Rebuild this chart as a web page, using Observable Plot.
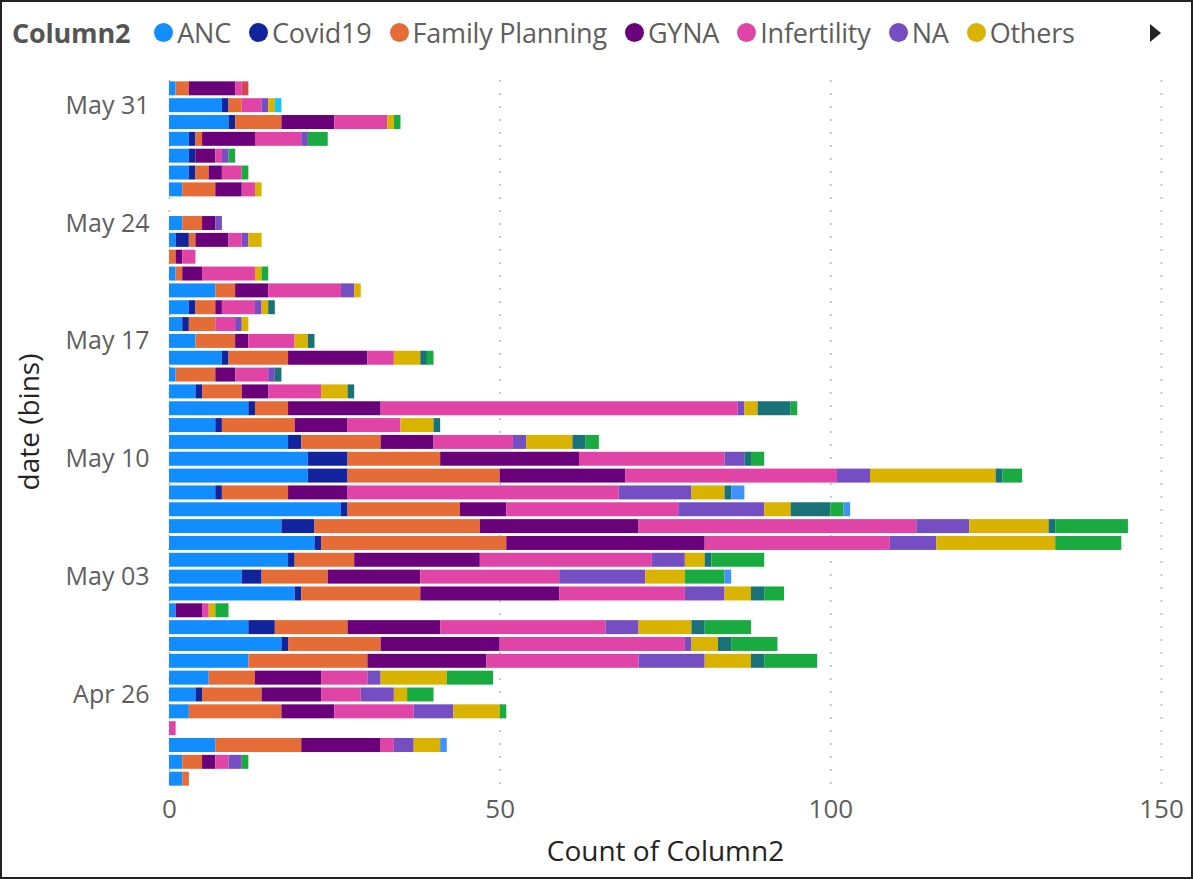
<!DOCTYPE html>
<html><head><meta charset="utf-8">
<script src="https://cdn.jsdelivr.net/npm/d3@7"></script>
<script src="https://cdn.jsdelivr.net/npm/@observablehq/plot@0.6"></script>
<style>
html,body{margin:0;padding:0;background:#fff;}
#frame{position:relative;width:1193px;height:879px;box-sizing:border-box;border:2px solid #222;overflow:hidden;font-family:"Open Sans",sans-serif;background:#fff;}
#legend{height:60px;display:flex;align-items:center;padding-left:10px;font-size:27px;color:#605E5C;white-space:nowrap;letter-spacing:-0.2px;}
.lt{font-weight:700;color:#555;margin-right:24px;}
.li{display:flex;align-items:center;margin-right:18px;}
.dot{width:19px;height:19px;border-radius:50%;margin-right:4px;}
#arrow{position:absolute;left:1148px;top:22px;width:0;height:0;border-left:11px solid #252423;border-top:9px solid transparent;border-bottom:9px solid transparent;}
svg{display:block;}
</style></head>
<body><div id="frame"><div id="legend"></div><div id="arrow"></div><div id="chart"></div></div>
<script>
// Dates (daily bins), Apr 21 → Jun 1
const dates = ["2020-04-21","2020-04-22","2020-04-23","2020-04-24","2020-04-25","2020-04-26","2020-04-27","2020-04-28","2020-04-29","2020-04-30",
  "2020-05-01","2020-05-02","2020-05-03","2020-05-04","2020-05-05","2020-05-06","2020-05-07","2020-05-08","2020-05-09","2020-05-10",
  "2020-05-11","2020-05-12","2020-05-13","2020-05-14","2020-05-15","2020-05-16","2020-05-17","2020-05-18","2020-05-19","2020-05-20",
  "2020-05-21","2020-05-22","2020-05-23","2020-05-24","2020-05-25","2020-05-26","2020-05-27","2020-05-28","2020-05-29","2020-05-30",
  "2020-05-31","2020-06-01"];
const tickDates = ["2020-05-31","2020-05-24","2020-05-17","2020-05-10","2020-05-03","2020-04-26"];
const xTicks = [0, 50, 100, 150];

const categories = ["ANC","Covid19","Family Planning","GYNA","Infertility","NA","Others","PNC","Procedure","Screening","Ultrasound","Vaccination"];
const legendShown = ["ANC","Covid19","Family Planning","GYNA","Infertility","NA","Others"];
const colors = ["#118DFF","#12239E","#E66C37","#6B007B","#E044A7","#744EC2","#D9B300","#D64550","#197278","#1AAB40","#15C6F4","#4092FF"];

const ANC       = [2,2,7,0,3,4,6,12,17,12, 1,19,11,18,22,17,26,7,21,21, 18,7,12,4,1,8,4,2,3,7, 1,0,1,2,0,2,3,3,3,9, 8,1];
const Covid19   = [0,0,0,0,0,1,0,0,1,4, 0,1,3,1,1,5,1,1,6,6, 2,1,1,1,0,1,0,1,1,0, 0,0,2,0,0,0,1,1,1,1, 1,0];
const FamilyPlanning = [1,3,13,0,14,9,7,18,14,11, 0,18,10,9,28,25,17,10,23,14, 12,11,5,6,6,9,6,4,3,3, 1,1,1,3,0,5,2,0,1,7, 2,2];
const GYNA      = [0,2,12,0,8,9,10,18,18,14, 4,21,14,19,30,24,7,9,19,21, 8,8,14,4,3,12,2,0,1,5, 3,1,5,2,0,4,2,3,8,8, 0,7];
const Infertility = [0,2,2,1,12,6,7,23,28,25, 1,19,21,26,28,42,26,41,32,22, 12,8,54,8,5,4,7,3,5,11, 8,2,2,0,0,2,3,1,7,8, 3,1];
const NA        = [0,2,3,0,6,5,2,10,1,5, 0,6,13,5,7,8,13,11,5,3, 2,0,1,0,1,0,0,1,1,2, 0,0,1,1,0,0,0,1,1,0, 1,0];
const Others    = [0,0,4,0,7,2,10,7,4,8, 1,4,6,3,18,12,4,5,19,0, 7,5,2,4,0,4,2,1,1,1, 1,0,2,0,0,1,0,0,0,1, 1,0];
const PNC       = [0,0,0,0,0,0,0,0,0,0, 0,0,0,0,0,0,0,0,0,0, 0,0,0,0,0,0,0,0,0,0, 0,0,0,0,0,0,0,0,0,0, 0,1];
const Procedure = [0,0,0,0,0,0,0,2,2,2, 0,2,0,1,0,1,6,1,1,1, 2,1,5,1,1,1,1,0,1,0, 0,0,0,0,0,0,0,0,0,0, 0,0];
const Screening = [0,1,0,0,1,4,7,8,7,7, 2,3,6,8,10,11,2,0,3,2, 2,0,1,0,0,1,0,0,0,0, 1,0,0,0,0,0,1,1,3,1, 0,0];
const Ultrasound= [0,0,0,0,0,0,0,0,0,0, 0,0,0,0,0,0,0,0,0,0, 0,0,0,0,0,0,0,0,0,0, 0,0,0,0,0,0,0,0,0,0, 1,0];
const Vaccination=[0,0,1,0,0,0,0,0,0,0, 0,0,1,0,0,0,1,2,0,0, 0,0,0,0,0,0,0,0,0,0, 0,0,0,0,0,0,0,0,0,0, 0,0];

const series = [ANC, Covid19, FamilyPlanning, GYNA, Infertility, NA, Others, PNC, Procedure, Screening, Ultrasound, Vaccination];

const rows = [];
dates.forEach((d, i) => {
  categories.forEach((c, j) => {
    const v = series[j][i];
    if (v > 0) rows.push({date: d, category: c, count: v});
  });
});

// legend
const legend = document.getElementById("legend");
legend.innerHTML = `<span class="lt">Column2</span>` + legendShown.map(c =>
  `<span class="li"><span class="dot" style="background:${colors[categories.indexOf(c)]}"></span>${c}</span>`).join("");

const fmt = d3.utcFormat("%b %d");
const chart = Plot.plot({
  width: 1189,
  height: 815,
  marginLeft: 167,
  marginRight: 30,
  marginTop: 18,
  marginBottom: 90,
  style: {fontFamily: "'Open Sans', sans-serif", background: "white", overflow: "visible"},
  x: {domain: [0, 150]},
  y: {type: "band", domain: dates.slice().reverse(), paddingInner: 0.17, paddingOuter: 0.08},
  color: {domain: categories, range: colors},
  marks: [
    Plot.ruleX(xTicks, {stroke: "#C8C6C4", strokeWidth: 2, strokeDasharray: "2,11"}),
    Plot.barX(rows, Plot.stackX({x: "count", y: "date", fill: "category", order: categories})),
    Plot.axisX({ticks: xTicks, tickSize: 0, tickPadding: 12, fontSize: 26, color: "#605E5C", label: null}),
    Plot.axisY({ticks: tickDates, tickFormat: d => fmt(new Date(d)), tickSize: 0, tickPadding: 20, fontSize: 25, color: "#605E5C", label: null}),
    Plot.text(["Count of Column2"], {frameAnchor: "bottom", dy: 73, fontSize: 28, fill: "#252423"}),
    Plot.text(["date (bins)"], {frameAnchor: "left", dx: -139, dy: -12, rotate: -90, textAnchor: "middle", fontSize: 28, fill: "#252423"})
  ]
});
document.getElementById("chart").appendChild(chart);
</script></body></html>
